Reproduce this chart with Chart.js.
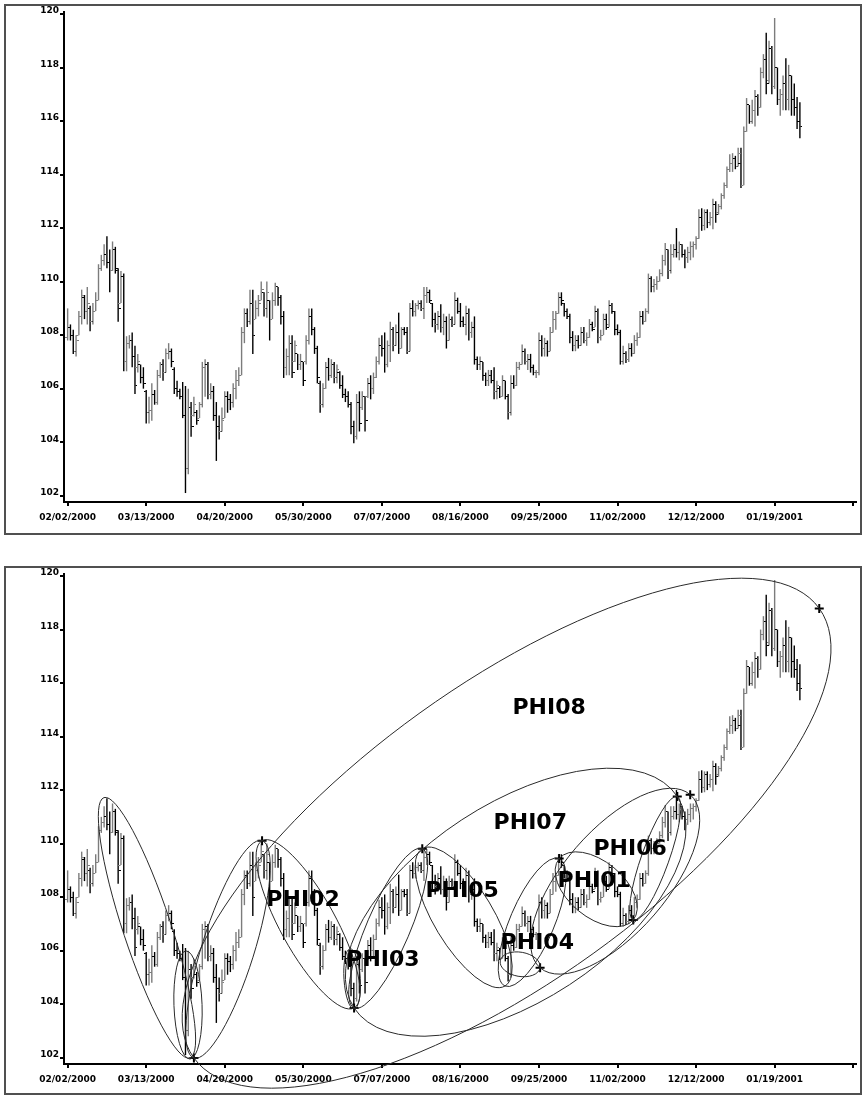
<!DOCTYPE html>
<html>
<head>
<meta charset="utf-8">
<script src="https://cdn.jsdelivr.net/npm/chart.js@4/dist/chart.umd.min.js"></script>
<style>
  body { margin: 0; background: #fff; }
  #page { position: relative; width: 864px; height: 1095px; overflow: hidden; }
  .frame { position: absolute; left: 4px; width: 858px; box-sizing: border-box; border: 2px solid #505050; }
  canvas { position: absolute; left: 0; }
</style>
</head>
<body>
<div id="page">
  <div class="frame" style="top:4px;height:531px"></div>
  <div class="frame" style="top:566px;height:529px"></div>
  <canvas id="top" width="864" height="540" style="top:0"></canvas>
  <canvas id="bottom" width="864" height="533" style="top:562px"></canvas>
</div>
<script>
// daily bars, 02/02/2000 .. early 02/2001 (trading-day index on x)
const TICK_LABELS = ["02/02/2000", "03/13/2000", "04/20/2000", "05/30/2000", "07/07/2000",
                     "08/16/2000", "09/25/2000", "11/02/2000", "12/12/2000", "01/19/2001"];
const TICK_STEP = 28;

const OPEN = [
  107.9,108.3,108.0,107.4,108.0,108.7,109.4,108.9,109.0,108.5,
  108.9,109.3,110.5,110.8,111.0,110.7,110.4,111.2,110.4,109.2,
  110.2,107.0,107.7,107.8,107.2,106.8,106.9,106.4,105.9,105.1,
  105.2,105.8,105.5,106.5,106.9,106.6,107.3,107.4,106.7,106.0,
  105.9,105.7,105.0,103.0,105.3,105.0,105.1,104.9,105.4,106.8,
  106.9,105.8,105.9,105.0,104.6,104.4,104.9,105.7,105.6,105.5,
  106.0,106.3,106.5,108.1,108.8,108.5,109.2,108.6,109.0,109.3,
  109.6,109.0,109.3,108.6,109.3,109.8,109.4,108.7,106.8,107.2,
  107.7,107.0,107.3,106.9,107.0,107.0,107.8,108.7,108.2,107.5,
  106.2,105.4,106.0,106.8,106.5,106.9,106.4,106.6,106.1,105.8,
  105.7,105.4,104.6,104.2,105.5,105.3,105.7,105.7,106.2,106.0,
  106.4,107.0,107.6,107.5,106.9,107.6,108.2,107.6,108.1,107.5,
  108.2,108.1,107.4,109.0,108.9,109.1,109.2,109.0,109.5,109.6,
  109.2,108.6,108.4,108.7,108.3,108.5,107.8,108.6,108.4,109.3,
  108.9,108.5,108.4,108.8,108.1,108.3,107.1,106.9,107.0,106.5,
  106.3,106.5,106.3,105.9,106.0,105.7,106.3,105.7,105.1,106.2,
  106.1,106.8,106.9,107.4,107.0,107.1,106.8,106.6,106.6,107.8,
  107.5,107.7,107.4,108.1,108.6,108.8,109.4,109.2,108.9,108.7,
  107.9,107.6,107.8,107.6,108.1,107.8,107.9,108.4,108.3,108.9,
  107.9,108.0,108.6,108.4,109.1,108.9,108.2,108.1,107.0,107.3,
  107.1,107.5,107.3,107.8,107.9,108.7,108.5,108.9,110.1,109.8,
  109.9,110.0,110.3,110.8,111.2,110.4,111.0,111.2,111.1,111.4,
  111.0,110.9,111.1,111.3,111.4,111.6,112.4,112.1,112.6,112.2,
  112.4,112.9,112.6,112.8,113.2,113.6,114.2,114.4,114.6,114.3,
  114.4,113.6,115.6,116.6,116.0,116.4,116.9,116.5,117.8,118.3,
  117.5,118.7,117.3,118.0,116.8,117.0,117.4,116.8,117.7,116.8,
  116.5,116.0
];
const HIGH = [
  109.0,108.4,108.2,108.0,108.9,109.7,109.5,109.8,109.1,109.2,
  109.6,110.65,111.0,111.4,111.7,111.2,111.5,111.3,110.5,110.4,
  110.3,107.96,108.0,108.1,107.6,107.3,106.9,106.8,105.95,105.7,
  106.2,105.95,106.7,107.0,107.1,107.5,107.7,107.5,106.8,106.3,
  106.0,106.25,106.1,106.0,105.5,105.7,105.2,105.5,107.0,107.1,
  107.0,106.2,106.1,105.5,105.0,105.3,105.9,105.9,105.8,106.2,
  106.7,106.8,108.3,109.0,109.0,109.7,109.7,109.3,109.5,110.0,
  109.6,110.0,109.3,109.6,109.96,109.8,109.5,108.9,107.5,108.0,
  108.0,107.8,107.3,107.3,107.0,108.0,109.0,109.0,108.3,107.6,
  106.3,106.2,107.0,107.15,107.1,107.0,106.9,106.65,106.5,106.0,
  105.9,105.5,104.8,105.8,105.9,105.9,105.7,106.4,106.5,106.6,
  107.2,107.9,108.0,108.1,107.8,108.5,108.3,108.4,108.84,108.3,
  108.3,108.3,109.2,109.3,109.2,109.3,109.3,109.8,109.8,109.7,
  109.2,108.84,108.9,109.15,108.8,108.7,108.8,108.7,109.6,109.4,
  109.2,108.7,109.1,109.0,108.5,108.7,107.2,107.2,107.0,106.6,
  106.7,106.7,106.8,106.3,106.1,106.5,106.3,105.8,106.5,106.5,
  107.0,107.0,107.65,107.5,107.3,107.3,106.9,106.7,108.1,108.0,
  107.9,107.8,108.3,108.9,108.9,109.6,109.6,109.2,109.0,108.8,
  108.15,108.0,108.0,108.3,108.3,108.1,108.6,108.5,109.1,109.0,
  108.2,108.8,108.8,109.3,109.2,108.9,108.4,108.2,107.6,107.4,
  107.7,107.7,108.0,108.1,108.9,108.9,109.0,110.3,110.2,110.1,
  110.2,110.46,111.0,111.44,111.2,111.4,111.4,112.0,111.5,111.4,
  111.2,111.3,111.5,111.5,111.7,112.7,112.74,112.7,112.7,112.6,
  113.1,113.0,112.9,113.3,113.7,114.3,114.76,114.8,114.7,115.0,
  115.0,115.8,116.86,116.6,116.8,117.16,117.0,118.0,118.5,119.3,
  119.0,118.8,119.85,118.0,117.2,117.7,118.35,118.1,117.7,117.4,
  116.9,116.7
];
const LOW = [
  107.8,107.8,107.3,107.2,108.0,108.4,108.6,108.4,108.15,108.4,
  108.9,109.3,110.4,110.6,110.5,109.6,110.4,110.3,108.5,109.2,
  106.65,106.65,107.5,106.8,105.8,106.6,106.2,106.0,104.7,104.7,
  104.8,105.4,105.4,106.4,106.3,106.6,107.1,106.8,105.8,105.7,
  105.6,104.9,102.1,102.8,104.2,104.96,104.65,104.9,105.3,105.7,
  105.6,105.6,104.8,103.3,104.1,104.4,104.9,105.1,105.2,105.3,
  105.6,106.1,106.5,107.7,108.3,108.4,107.3,108.6,108.7,109.3,
  108.7,108.65,107.8,108.6,109.1,109.1,108.4,106.4,106.5,106.5,
  106.4,107.0,106.7,106.7,106.1,106.9,107.65,108.0,107.3,106.2,
  105.1,105.3,106.0,106.3,106.4,106.2,106.2,106.0,105.65,105.5,
  105.3,104.3,103.96,104.1,104.4,105.2,104.4,105.65,105.6,105.8,
  106.4,106.9,107.2,106.6,106.8,107.0,107.4,107.6,107.3,107.5,
  108.0,107.3,107.4,108.7,108.7,108.96,108.9,108.6,109.2,109.2,
  108.3,108.1,108.2,108.1,108.0,107.5,107.8,108.3,108.4,108.8,
  108.3,108.3,108.0,107.8,107.9,106.9,106.7,106.7,106.3,106.1,
  106.1,106.2,105.6,105.6,105.65,105.7,105.6,104.85,105.0,106.0,
  106.1,106.7,106.9,106.9,106.7,106.6,106.5,106.4,106.5,107.2,
  107.2,107.2,107.4,108.1,108.2,108.8,109.1,108.7,108.6,107.7,
  107.4,107.4,107.5,107.6,107.7,107.6,107.9,108.15,108.3,107.7,
  107.8,108.0,108.2,108.3,108.8,108.0,108.0,106.9,106.9,106.96,
  107.0,107.2,107.3,107.6,107.9,108.4,108.5,108.8,109.6,109.6,
  109.7,110.0,110.2,110.6,110.1,110.3,110.9,110.9,110.8,110.9,
  110.5,110.7,110.8,110.9,111.2,111.6,111.9,111.92,112.0,112.1,
  111.96,112.2,112.5,112.7,113.1,113.5,114.1,114.1,114.2,114.3,
  113.5,113.6,115.6,115.9,115.9,115.8,116.2,116.5,117.6,117.0,
  117.4,117.0,117.2,116.6,116.2,116.4,116.4,116.4,116.2,116.2,
  115.7,115.36
];
const CLOSE = [
  108.3,108.0,107.4,107.8,108.7,109.5,108.9,109.2,108.5,108.9,
  109.3,110.5,110.8,111.0,110.7,110.4,111.2,110.5,109.0,110.2,
  107.0,107.7,107.8,107.2,106.1,107.0,106.4,106.2,105.1,105.2,
  105.8,105.5,106.5,106.9,106.6,107.3,107.4,107.0,106.0,105.9,
  105.7,105.0,103.0,105.3,104.6,105.4,104.8,105.4,106.8,106.9,
  105.8,105.9,105.0,104.6,104.4,104.8,105.7,105.6,105.5,106.0,
  106.3,106.5,108.1,108.8,108.5,109.2,108.0,109.0,109.2,109.7,
  109.0,109.6,108.6,109.3,109.8,109.4,108.7,106.8,107.2,107.7,
  106.6,107.6,106.9,107.0,106.3,107.8,108.7,108.2,107.5,106.4,
  105.4,106.0,106.8,106.5,106.9,106.4,106.7,106.1,105.8,105.7,
  105.4,104.6,104.2,105.5,104.7,105.7,104.8,106.2,106.0,106.4,
  107.0,107.6,107.5,106.9,107.6,108.2,107.6,108.1,107.5,108.2,
  108.1,107.4,109.0,108.9,109.1,109.2,109.0,109.5,109.6,109.3,
  108.6,108.4,108.7,108.3,108.5,107.8,108.6,108.4,109.3,108.9,
  108.5,108.4,108.8,108.1,108.3,107.1,106.9,107.0,106.5,106.3,
  106.5,106.3,105.9,106.1,105.7,106.3,105.7,105.1,106.2,106.1,
  106.8,106.9,107.4,107.0,107.1,106.8,106.6,106.6,107.8,107.5,
  107.7,107.4,108.1,108.6,108.8,109.4,109.3,108.9,108.7,107.9,
  107.6,107.8,107.6,108.1,107.8,107.9,108.4,108.2,108.9,107.9,
  108.0,108.6,108.3,109.1,108.9,108.2,108.1,107.0,107.3,107.1,
  107.5,107.3,107.8,107.9,108.7,108.5,108.9,110.1,109.8,109.9,
  110.0,110.3,110.8,111.2,110.4,111.0,111.2,111.1,111.4,111.0,
  110.9,111.1,111.3,111.4,111.6,112.4,112.1,112.6,112.2,112.4,
  112.9,112.5,112.8,113.2,113.6,114.2,114.4,114.6,114.3,114.8,
  113.6,115.6,116.6,116.0,116.4,116.9,116.5,117.8,118.3,117.4,
  118.7,117.3,118.0,116.8,117.0,117.4,116.8,117.7,116.8,116.5,
  116.0,115.8
];

// pivot marks (+) on the lower chart: bar index, price
const PIVOT_X = [45.0, 69.3, 102.1, 126.4, 168.4, 175.2, 201.6, 217.3, 221.9, 267.9];
const PIVOT_Y = [101.99, 110.11, 103.86, 109.81, 105.36, 109.44, 107.15, 111.76, 111.83, 118.79];

// ellipses: two ends of the long axis (index, price) and minor/major ratio
const ELL_X1 = [12.95, 42.2, 45.0, 69.3, 100.7, 102.1, 126.4, 155.9, 154.2, 175.2, 168.4, 201.6, 102.1, 45.0];
const ELL_Y1 = [111.72, 105.99, 101.99, 110.11, 106.07, 103.86, 109.81, 104.68, 105.62, 109.44, 105.36, 107.15, 103.86, 101.99];
const ELL_X2 = [43.6, 43.6, 69.3, 102.1, 102.1, 126.4, 155.9, 175.2, 168.4, 201.6, 221.9, 217.3, 217.3, 267.9];
const ELL_Y2 = [101.99, 101.95, 110.11, 103.86, 103.82, 109.81, 104.68, 109.44, 105.36, 107.15, 111.83, 111.76, 111.76, 118.79];
const ELL_RATIO = [0.175, 0.26, 0.23, 0.29, 0.27, 0.25, 0.37, 0.32, 0.6, 0.58, 0.45, 0.21, 0.51, 0.385];

const PHI_NAMES = ["PHI01", "PHI02", "PHI03", "PHI04", "PHI05", "PHI06", "PHI07", "PHI08"];
const PHI_X = [187.7, 83.9, 112.4, 167.4, 140.6, 200.5, 164.9, 171.6];
const PHI_Y = [108.69, 107.98, 105.73, 106.37, 108.31, 109.89, 110.86, 115.16];

const BLACK = "#000000";
const GRAY = "#7c7c7c";
const AXIS_FONT = { family: "DejaVu Sans", size: 9, weight: "bold" };

const idx = OPEN.map((v, i) => i);
const isUp = i => CLOSE[i] >= OPEN[i];

function tickImage(color, left) {
    const c = document.createElement("canvas");
    c.width = 5; c.height = 1;
    const g = c.getContext("2d");
    g.fillStyle = color;
    g.fillRect(left ? 0 : 3, 0, 2, 1);
    return c;
}
const OPEN_IMG = { up: tickImage(GRAY, true), down: tickImage(BLACK, true) };
const CLOSE_IMG = { up: tickImage(GRAY, false), down: tickImage(BLACK, false) };

const phiPlugin = {
    id: "phi",
    afterDatasetsDraw(chart) {
        const { ctx, scales: { x, y } } = chart;
        ctx.save();
        ctx.strokeStyle = "#2a2a2a";
        ctx.lineWidth = 1;
        for (let k = 0; k < ELL_X1.length; k++) {
            const x1 = x.getPixelForValue(ELL_X1[k]), y1 = y.getPixelForValue(ELL_Y1[k]);
            const x2 = x.getPixelForValue(ELL_X2[k]), y2 = y.getPixelForValue(ELL_Y2[k]);
            const a = Math.hypot(x2 - x1, y2 - y1) / 2;
            ctx.beginPath();
            ctx.ellipse((x1 + x2) / 2, (y1 + y2) / 2, a, a * ELL_RATIO[k], Math.atan2(y2 - y1, x2 - x1), 0, Math.PI * 2);
            ctx.stroke();
        }
        ctx.fillStyle = "#000";
        ctx.font = "bold 22px 'DejaVu Sans'";
        ctx.textAlign = "center";
        ctx.textBaseline = "alphabetic";
        for (let k = 0; k < PHI_NAMES.length; k++) {
            ctx.fillText(PHI_NAMES[k], x.getPixelForValue(PHI_X[k]), y.getPixelForValue(PHI_Y[k]) + 8);
        }
        ctx.restore();
    }
};

function makeChart(id, padBottom, withPhi) {
    const datasets = [
        {
            type: "bar",
            data: idx.map(i => ({ x: i, y: [LOW[i], HIGH[i]] })),
            backgroundColor: idx.map(i => isUp(i) ? GRAY : BLACK),
            borderWidth: 0,
            inflateAmount: 0,
            barThickness: 1.4,
            order: 3
        },
        {
            type: "line",
            data: idx.map(i => ({ x: i, y: OPEN[i] })),
            showLine: false,
            pointRadius: 2,
            pointStyle: c => isUp(c.dataIndex) ? OPEN_IMG.up : OPEN_IMG.down,
            order: 2
        },
        {
            type: "line",
            data: idx.map(i => ({ x: i, y: CLOSE[i] })),
            showLine: false,
            pointRadius: 2,
            pointStyle: c => isUp(c.dataIndex) ? CLOSE_IMG.up : CLOSE_IMG.down,
            order: 2
        }
    ];
    if (withPhi) {
        datasets.push({
            type: "line",
            data: PIVOT_X.map((v, k) => ({ x: v, y: PIVOT_Y[k] })),
            showLine: false,
            pointStyle: "cross",
            pointRadius: 4.5,
            pointBorderWidth: 2,
            pointBorderColor: BLACK,
            clip: false,
            order: 1
        });
    }

    return new Chart(document.getElementById(id), {
        type: "bar",
        data: { datasets: datasets },
        options: {
            responsive: false,
            animation: false,
            events: [],
            layout: { padding: { left: 0, right: 8, top: 12, bottom: padBottom } },
            plugins: { legend: { display: false }, tooltip: { enabled: false } },
            scales: {
                x: {
                    type: "linear",
                    min: -1.3,
                    max: 281,
                    offset: false,
                    grid: { drawOnChartArea: false, offset: false, tickLength: 4, color: BLACK, lineWidth: 2 },
                    border: { color: BLACK, width: 2 },
                    ticks: {
                        stepSize: TICK_STEP,
                        includeBounds: false,
                        autoSkip: false,
                        maxRotation: 0,
                        padding: 6,
                        color: BLACK,
                        font: AXIS_FONT,
                        callback: v => TICK_LABELS[v / TICK_STEP] || ""
                    },
                    afterFit: s => { s.height = 30; }
                },
                y: {
                    min: 101.765,
                    max: 120.075,
                    grid: { drawOnChartArea: false, tickLength: 4, color: BLACK, lineWidth: 2 },
                    border: { color: BLACK, width: 2 },
                    ticks: {
                        stepSize: 2,
                        includeBounds: false,
                        padding: 1,
                        labelOffset: -3,
                        color: BLACK,
                        font: AXIS_FONT,
                        callback: v => String(v)
                    },
                    afterFit: s => { s.width = 64; }
                }
            }
        },
        plugins: withPhi ? [phiPlugin] : []
    });
}

makeChart("top", 8, false);
makeChart("bottom", 1, true);
</script>
</body>
</html>
